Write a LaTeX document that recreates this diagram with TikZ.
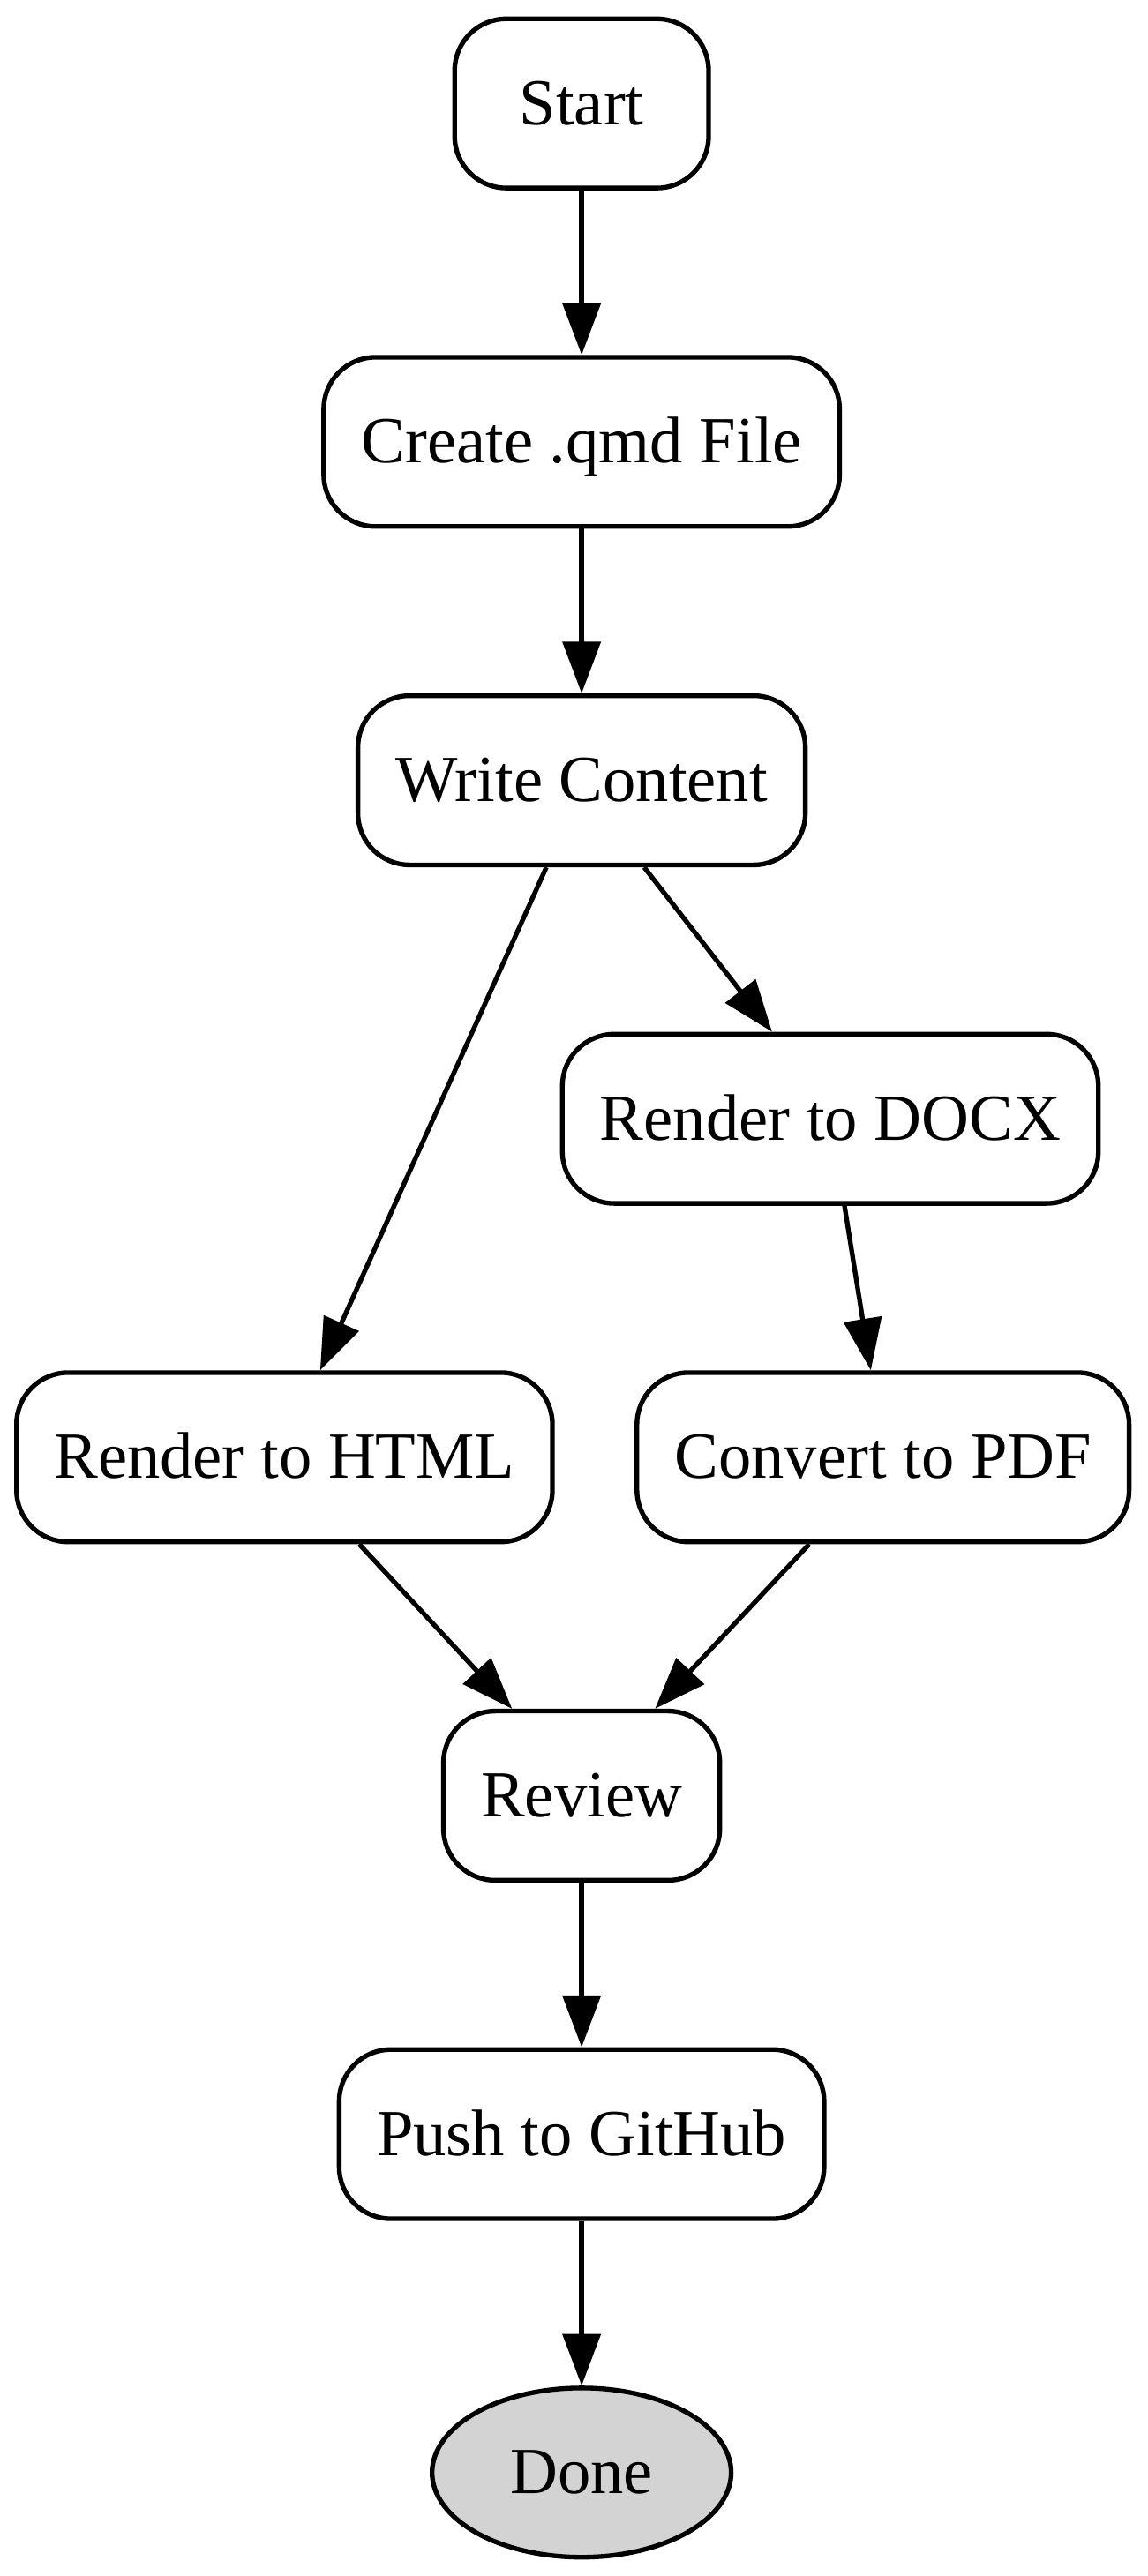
\documentclass[tikz,border=0pt]{standalone}
\usepackage{fontspec}
\setmainfont{Liberation Serif}
\usetikzlibrary{arrows.meta,shapes.geometric}
\definecolor{donegray}{RGB}{211,211,211}
\begin{document}
\begin{tikzpicture}[x=1bp,y=-1bp,
  flowbox/.style={draw, line width=1bp, rounded corners=11bp, minimum height=36bp,
    minimum width=54bp, inner xsep=8bp, inner ysep=0pt, text height=9bp, text depth=0bp,
    font=\fontsize{14bp}{16bp}\selectfont},
  donebox/.style={ellipse, draw, fill=donegray, line width=1bp, minimum width=63.6bp,
    minimum height=36bp, inner sep=0pt, text height=9bp, text depth=0bp,
    font=\fontsize{14bp}{16bp}\selectfont},
  flowarrow/.style={line width=1bp, -{Triangle[length=11bp,width=8bp]}}]
\useasboundingbox (0,0) rectangle (244.0,548.0);
\node[flowbox] (start)  at (123.7,22)  {Start};
\node[flowbox] (create) at (123.7,94)  {Create .qmd File};
\node[flowbox] (write)  at (123.7,166) {Write Content};
\node[flowbox] (docx)   at (176.6,238) {Render to DOCX};
\node[flowbox] (html)   at (60.5,310)  {Render to HTML};
\node[flowbox] (pdf)    at (187.8,310) {Convert to PDF};
\node[flowbox] (review) at (123.7,382) {Review};
\node[flowbox] (push)   at (123.7,454) {Push to GitHub};
\node[donebox] (done)   at (123.7,526) {Done};
\draw[flowarrow] (start) -- (create);
\draw[flowarrow] (create) -- (write);
\draw[flowarrow] ([xshift=-7.5bp]write.south) -- ([xshift=7.6bp]html.north);
\draw[flowarrow] ([xshift=13.3bp]write.south) -- ([xshift=-12.4bp]docx.north);
\draw[flowarrow] ([xshift=3bp]docx.south) -- ([xshift=-2.6bp]pdf.north);
\draw[flowarrow] ([xshift=15.9bp]html.south) -- ([xshift=-14.8bp]review.north);
\draw[flowarrow] ([xshift=-15.7bp]pdf.south) -- ([xshift=15.6bp]review.north);
\draw[flowarrow] (review) -- (push);
\draw[flowarrow] (push) -- (done);
\end{tikzpicture}
\end{document}
